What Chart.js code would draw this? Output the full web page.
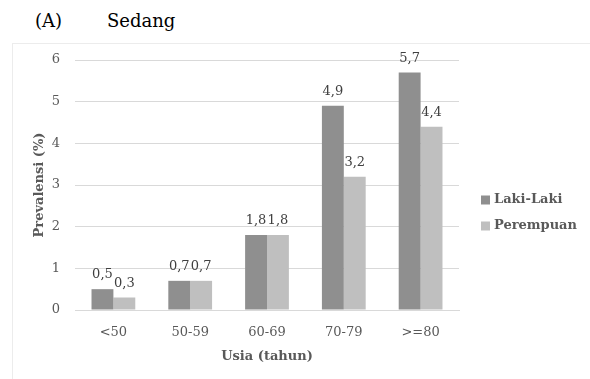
<!DOCTYPE html>
<html>
<head>
<meta charset="utf-8">
<script src="https://cdn.jsdelivr.net/npm/chart.js@4/dist/chart.umd.min.js"></script>
<style>
  html, body { margin: 0; padding: 0; background: #ffffff; overflow: hidden; }
  body { width: 590px; height: 379px; position: relative; font-family: "DejaVu Serif", serif; }
  .head { position: absolute; top: 12px; font-size: 18px; line-height: 18px; color: #000; }
  .frame { position: absolute; left: 12px; top: 43px; width: 620px; height: 400px; border: 1px solid #ececec; box-sizing: border-box; }
  #wrap { position: absolute; left: 0; top: 0; width: 590px; height: 379px; }
</style>
</head>
<body>
<div class="head" style="left:35px;">(A)</div>
<div class="head" style="left:107px;">Sedang</div>
<div class="frame"></div>
<div id="wrap"><canvas id="chart"></canvas></div>
<script>
// Age groups and prevalence (%) for the moderate category
const categories = ['<50', '50-59', '60-69', '70-79', '>=80'];
const lakiLaki = [0.5, 0.7, 1.8, 4.9, 5.7];
const perempuan = [0.3, 0.7, 1.8, 3.2, 4.4];
const seriesNames = ['Laki-Laki', 'Perempuan'];
const yTicks = [0, 1, 2, 3, 4, 5, 6];

const FONT = '"DejaVu Serif", serif';
const fmt = v => String(v).replace('.', ',');

// Value labels above each bar
const valueLabels = {
  id: 'valueLabels',
  afterDatasetsDraw(chart) {
    const ctx = chart.ctx;
    ctx.save();
    ctx.font = '13px ' + FONT;
    ctx.fillStyle = '#404040';
    ctx.textAlign = 'center';
    ctx.textBaseline = 'alphabetic';
    chart.data.datasets.forEach((ds, i) => {
      chart.getDatasetMeta(i).data.forEach((bar, j) => {
        ctx.fillText(fmt(ds.data[j]), bar.x, bar.y - 11);
      });
    });
    ctx.restore();
  }
};

// Legend on the right side
const sideLegend = {
  id: 'sideLegend',
  afterDraw(chart) {
    const ctx = chart.ctx;
    ctx.save();
    ctx.font = 'bold 13px ' + FONT;
    ctx.textBaseline = 'middle';
    ctx.textAlign = 'left';
    chart.data.datasets.forEach((ds, i) => {
      const y = 200 + i * 26;
      ctx.fillStyle = ds.backgroundColor;
      ctx.fillRect(481, y - 4.5, 9, 9);
      ctx.fillStyle = '#595959';
      ctx.fillText(ds.label, 494, y);
    });
    ctx.restore();
  }
};

new Chart(document.getElementById('chart'), {
  type: 'bar',
  data: {
    labels: categories,
    datasets: [
      { label: seriesNames[0], data: lakiLaki, backgroundColor: '#8f8f8f' },
      { label: seriesNames[1], data: perempuan, backgroundColor: '#bfbfbf' }
    ]
  },
  options: {
    responsive: true,
    maintainAspectRatio: false,
    animation: false,
    layout: { padding: { left: 28, right: 131, top: 60, bottom: 15 } },
    datasets: { bar: { categoryPercentage: 0.57, barPercentage: 1.0 } },
    plugins: { legend: { display: false }, tooltip: { enabled: false } },
    scales: {
      x: {
        grid: { display: false, drawTicks: false },
        border: { display: true, color: '#d9d9d9' },
        ticks: { color: '#595959', font: { family: FONT, size: 13 }, padding: 15 },
        title: { display: true, text: 'Usia (tahun)', color: '#595959', font: { family: FONT, size: 13, weight: 'bold' }, padding: { top: 0, bottom: 0 } },
        afterFit(s) { s.height = 54; }
      },
      y: {
        min: yTicks[0],
        max: yTicks[yTicks.length - 1],
        afterBuildTicks(s) { s.ticks = yTicks.map(v => ({ value: v })); },
        grid: { color: '#d9d9d9', drawTicks: false },
        border: { display: false },
        ticks: { color: '#595959', font: { family: FONT, size: 13 }, padding: 15 },
        title: { display: true, text: 'Prevalensi (%)', color: '#595959', font: { family: FONT, size: 13, weight: 'bold' }, padding: { top: 4, bottom: 0 } },
        afterFit(s) { s.width = 47; }
      }
    }
  },
  plugins: [valueLabels, sideLegend]
});
</script>
</body>
</html>
